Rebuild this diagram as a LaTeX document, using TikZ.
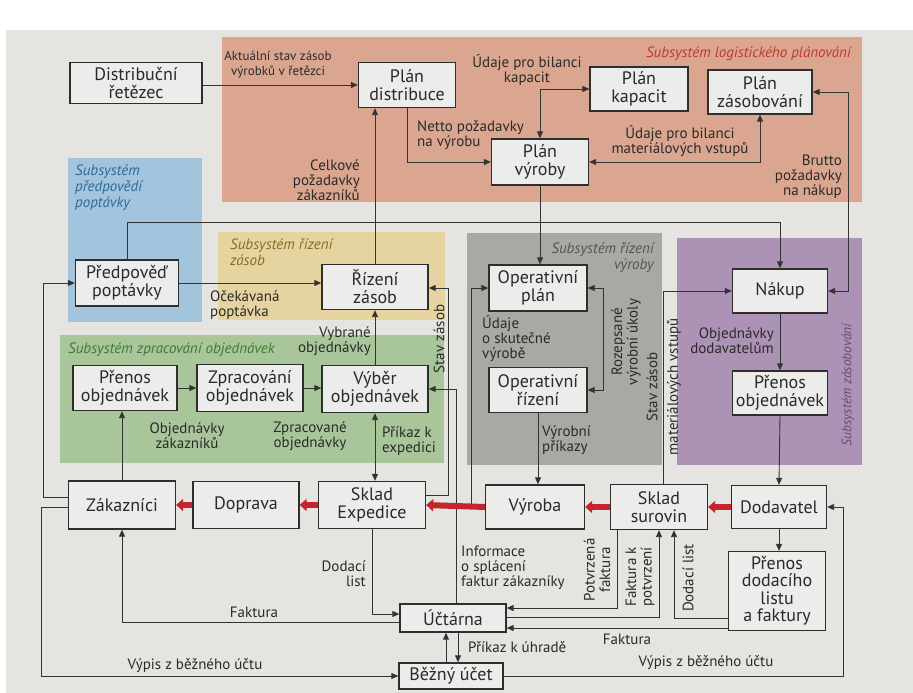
\documentclass[tikz,border=0pt]{standalone}
\usepackage{fontspec}
\setmainfont{PT Sans}
\usetikzlibrary{arrows.meta,calc}
\definecolor{pagebg}{HTML}{E5E4E0}
\definecolor{orangebg}{HTML}{DBA690}
\definecolor{bluebg}{HTML}{A2C4DC}
\definecolor{yellowbg}{HTML}{E6D4A0}
\definecolor{greenbg}{HTML}{A9C69B}
\definecolor{graybg}{HTML}{AAA8A3}
\definecolor{purplebg}{HTML}{AC92B4}
\definecolor{boxfill}{HTML}{ECECEA}
\definecolor{boxline}{HTML}{2E2E2E}
\definecolor{conn}{HTML}{333333}
\definecolor{labtext}{HTML}{2A2A2A}
\definecolor{redflow}{HTML}{C4242C}
\definecolor{subred}{HTML}{C0392B}
\definecolor{subblue}{HTML}{2F6A9C}
\definecolor{subbrown}{HTML}{8A6A22}
\definecolor{subgreen}{HTML}{3E7A33}
\definecolor{subgray}{HTML}{555555}
\definecolor{subpurple}{HTML}{6B4A7C}
\begin{document}
\begin{tikzpicture}[x=1pt,y=-1pt,
  box/.style={draw=boxline,line width=1.3pt,fill=boxfill,align=center,text=labtext,font=\fontsize{18}{17.5}\selectfont,inner sep=0pt},
  lab/.style={font=\fontsize{15}{15}\selectfont,inner sep=0pt,text=labtext},
  rlab/.style={font=\fontsize{15}{15.5}\selectfont,inner sep=0pt,text=labtext,rotate=90},
  arr/.style={draw=conn,line width=0.9pt,-{Triangle[length=7pt,width=6pt]}},
  arrb/.style={draw=conn,line width=0.9pt,{Triangle[length=7pt,width=6pt]}-{Triangle[length=7pt,width=6pt]}},
  flow/.style={draw=redflow,line width=6pt,-{Triangle[length=7pt,width=12pt]}},
  sub/.style={font=\itshape\fontsize{15}{16}\selectfont,inner sep=0pt}
]
\useasboundingbox (0,0) rectangle (913,693);
% background and subsystem areas
\fill[white] (0,0) rectangle (913,30);
\fill[pagebg] (6,30) rectangle (913,693);
\fill[orangebg] (222,37) rectangle (862,202);
\fill[bluebg] (68,158) rectangle (202,322);
\fill[yellowbg] (218,232) rectangle (445,320);
\fill[greenbg] (60,335) rectangle (444,463);
\fill[graybg] (467,233) rectangle (662,465);
\fill[purplebg] (677,238) rectangle (862,465);
% subsystem titles
\node[sub,text=subred,anchor=east] (s1) at (851,54) {Subsystém logistického plánování};
\node[sub,text=subblue,align=left,anchor=north west] (s2) at (75,164) {Subsystém\\předpovědí\\poptávky};
\node[sub,text=subbrown,align=left,anchor=north west] (s3) at (230,238) {Subsystém řízení\\zásob};
\node[sub,text=subgreen,anchor=west] (s4) at (68,350) {Subsystém zpracování objednávek};
\node[sub,text=subgray,align=right,anchor=north east] (s5) at (654,242) {Subsystém řízení\\výroby};
\node[sub,text=subpurple,rotate=90,font=\itshape\fontsize{13.5}{15}\selectfont] (s6) at (848,385) {Subsystém zásobování};
% boxes
\node[box,minimum width=132pt,minimum height=41pt] (dist) at (136,83) {Distribuční\\řetězec};
\node[box,minimum width=97pt,minimum height=45pt] (pdist) at (407,85) {Plán\\distribuce};
\node[box,minimum width=98pt,minimum height=44pt] (pkap) at (639,89) {Plán\\kapacit};
\node[box,minimum width=104pt,minimum height=44pt] (pzas) at (760,92) {Plán\\zásobování};
\node[box,minimum width=97pt,minimum height=46pt] (pvyr) at (540,162) {Plán\\výroby};
\node[box,minimum width=103pt,minimum height=46pt] (pred) at (127,283) {Předpověď\\poptávky};
\node[box,minimum width=106pt,minimum height=45pt] (rizz) at (375,287) {Řízení\\zásob};
\node[box,minimum width=104pt,minimum height=45pt] (prenL) at (125,388) {Přenos\\objednávek};
\node[box,minimum width=106pt,minimum height=47pt] (zprac) at (250,388) {Zpracování\\objednávek};
\node[box,minimum width=106pt,minimum height=47pt] (vyber) at (375,389) {Výběr\\objednávek};
\node[box,minimum width=98pt,minimum height=46pt] (oplan) at (538,288) {Operativní\\plán};
\node[box,minimum width=98pt,minimum height=45pt] (orizeni) at (538,390) {Operativní\\řízení};
\node[box,minimum width=95pt,minimum height=44pt] (nakup) at (780,291) {Nákup};
\node[box,minimum width=95pt,minimum height=44pt] (prenR) at (780,393) {Přenos\\objednávek};
\node[box,minimum width=107pt,minimum height=48pt] (zak) at (122,505) {Zákazníci};
\node[box,minimum width=106pt,minimum height=47pt] (dopr) at (246,505) {Doprava};
\node[box,minimum width=107pt,minimum height=47pt] (sklexp) at (372,505) {Sklad\\Expedice};
\node[box,minimum width=99pt,minimum height=44pt] (vyroba) at (535,507) {Výroba};
\node[box,minimum width=97pt,minimum height=45pt] (sklsur) at (659,507) {Sklad\\surovin};
\node[box,minimum width=95pt,minimum height=43pt] (dodav) at (779,507) {Dodavatel};
\node[box,minimum width=97pt,minimum height=79pt] (prendod) at (777,591) {Přenos\\dodacího\\listu\\a faktury};
\node[box,minimum width=106pt,minimum height=28pt] (uct) at (453,618) {Účtárna};
\node[box,minimum width=104pt,minimum height=26pt] (bezny) at (451,676) {Běžný účet};
% connectors
\coordinate (yline) at (0,222);
\coordinate (s15) at (448,288);
\coordinate (s16) at (456,604);
\coordinate (xa) at (446,0);
\coordinate (xb) at (458,0);
\draw[arr] (dist.east |- pdist.west) -- (pdist.west);
\draw[arr] (pdist.south) |- (pvyr.west);
\draw[arr] (rizz.north) -- (rizz.north |- pdist.south);
\draw[arrb] (pvyr.north) |- (pkap.west);
\draw[arrb] (pvyr.east) -| (pzas.south);
\draw[arrb] (pzas.east) -| ($(nakup.east)+(20,0)$) -- (nakup.east);
\draw[arr] (pvyr.south) -- (pvyr.south |- oplan.north);
\draw[arr] (pred.north) |- (yline -| nakup.north) -- (nakup.north);
\draw[arr] (pred.east) -- (pred.east -| rizz.west);
\draw[arr] ($(zak.west)+(0,-8)$) -| (43,283) -- (pred.west);
\draw[arr] (zak.north) -- (zak.north |- prenL.south);
\draw[arr] (prenL.east) -- (zprac.west);
\draw[arr] (zprac.east) -- (zprac.east -| vyber.west);
\draw[arr] (vyber.north) -- (vyber.north |- rizz.south);
\draw[arrb] (vyber.south) -- (vyber.south |- sklexp.north);
\draw[arr] ($(sklexp.east)+(0,-10)$) -| (s15) -- (s15 -| rizz.east);
\draw[arr] (s16) |- (vyber.east);
\draw[arr] (sklexp.south) |- ($(uct.west)+(0,-4)$);
\draw[arr] ($(uct.west)+(0,4)$) -| (zak.south);
\draw[arr] ($(zak.west)+(0,2)$) -| (41,676) -- (bezny.west);
\draw[arr] (bezny.north -| xa) -- (uct.south -| xa);
\draw[arr] (uct.south -| xb) -- (bezny.north -| xb);
\draw[arr] (bezny.east) -| ($(dodav.east)+(16,0)$) -- (dodav.east);
\draw[arr] (orizeni.south) -- (orizeni.south |- vyroba.north);
\draw[arrb] (oplan.east) -- ++(16,0) |- (orizeni.east);
\draw[arr] ($(vyroba.west)+(-13,0)$) |- (oplan.west);
\draw[arr] ($(sklsur.north)+(4,0)$) |- (nakup.west);
\draw[arr] ($(sklsur.south)+(-42,0)$) |- ($(uct.east)+(0,-10)$);
\draw[arr] ($(uct.east)+(0,-1)$) -| (sklsur.south);
\draw[arr] ($(prendod.west)+(0,27)$) -| ($(sklsur.south)+(15,0)$);
\draw[arr] ($(prendod.west)+(0,37)$) -- ($(uct.east)+(0,10)$);
\draw[arr] (nakup.south) -- (prenR.north);
\draw[arr] (prenR.south) -- (dodav.north);
\draw[arr] (dodav.south) -- (dodav.south |- prendod.north);
% material flow
\draw[flow] (dodav.west) -- (sklsur.east);
\draw[flow] (sklsur.west) -- (vyroba.east);
\draw[flow] (vyroba.west) -- (sklexp.east);
\draw[flow] (sklexp.west) -- (dopr.east);
\draw[flow] (dopr.west) -- (zak.east);
% connector labels
\node[lab,align=center,font=\fontsize{13}{15}\selectfont] (l1) at (278,65) {Aktuální stav zásob\\výrobků v řetězci};
\node[lab,align=left,anchor=west] (l2) at (417,135) {Netto požadavky\\na výrobu};
\node[lab,align=right,anchor=east] (l3) at (360,180) {Celkové\\požadavky\\zákazníků};
\node[lab,align=center] (l4) at (527,70) {Údaje pro bilanci\\kapacit};
\node[lab,align=center] (l5) at (680,141) {Údaje pro bilanci\\materiálových vstupů};
\node[lab,align=right,anchor=east] (l6) at (842,177) {Brutto\\požadavky\\na nákup};
\node[lab,align=left,anchor=west] (l11) at (210,305) {Očekávaná\\poptávka};
\node[lab,align=right,anchor=east] (l12) at (371,341) {Vybrané\\objednávky};
\node[rlab] (l13) at (439,339) {Stav zásob};
\node[lab,align=center] (l14) at (187,436) {Objednávky\\zákazníků};
\node[lab,align=center] (l15) at (310,436) {Zpracované\\objednávky};
\node[lab,align=left,anchor=west] (l16) at (382,441) {Příkaz k\\expedici};
\node[lab,align=left,anchor=west] (l17) at (482,339) {Údaje\\o skutečné\\výrobě};
\node[rlab,align=center] (l18) at (626,342) {Rozepsané\\výrobní úkoly};
\node[lab,align=left,anchor=west] (l20) at (542,440) {Výrobní\\příkazy};
\node[rlab] (l21a) at (652,387) {Stav zásob};
\node[rlab] (l21b) at (674,387) {materiálových vstupů};
\node[lab,align=right,anchor=east] (l22) at (774,341) {Objednávky\\dodavatelům};
\node[lab,align=right,anchor=east] (l24) at (366,574) {Dodací\\list};
\node[lab] (l25) at (254,612) {Faktura};
\node[lab,align=left,anchor=west] (l26) at (461,568) {Informace\\o splácení\\faktur zákazníky};
\node[rlab,align=center] (l27) at (597,570) {Potvrzená\\faktura};
\node[rlab,align=center] (l28) at (640,577) {Faktura k\\potvrzení};
\node[rlab] (l29) at (688,578) {Dodací list};
\node[lab] (l30) at (627,639) {Faktura};
\node[lab,anchor=west] (l31) at (468,647) {Příkaz k úhradě};
\node[lab] (l32) at (195,666) {Výpis z běžného účtu};
\node[lab] (l33) at (706,663) {Výpis z běžného účtu};
\end{tikzpicture}
\end{document}
